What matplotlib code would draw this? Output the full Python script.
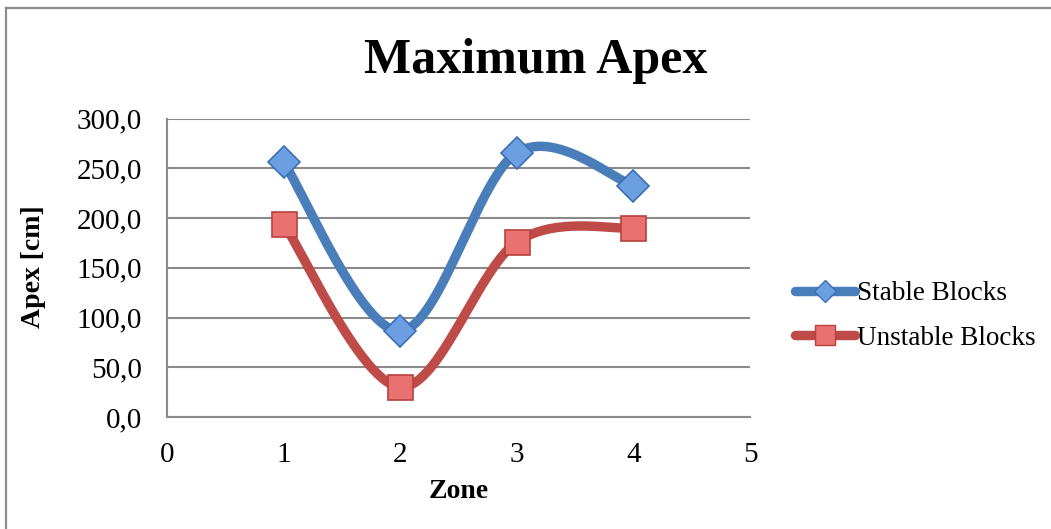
import numpy as np
import matplotlib
matplotlib.use("Agg")
import matplotlib.pyplot as plt
from matplotlib.lines import Line2D

# Data
zones = [1, 2, 3, 4]
stable_blocks = [256.2, 86.5, 265.8, 232.6]
unstable_blocks = [194.1, 30.2, 176.0, 190.0]
series_names = ["Stable Blocks", "Unstable Blocks"]
y_ticks = [0, 50, 100, 150, 200, 250, 300]
x_ticks = [0, 1, 2, 3, 4, 5]

plt.rcParams['font.family'] = ['Liberation Serif', 'DejaVu Serif']

BLUE_LINE = "#4a7ebb"
BLUE_FACE = "#6c9fe2"
BLUE_EDGE = "#3c6fb4"
RED_LINE = "#be4b48"
RED_FACE = "#e9716f"
RED_EDGE = "#b8403d"
GRID = "#8a8a8a"


def smooth_curve(x, y, n=60):
    """Cubic Bezier smoothing through the points (spreadsheet-style)."""
    pts = np.column_stack([x, y]).astype(float)
    ext = np.vstack([pts[0], pts, pts[-1]])
    t = np.linspace(0, 1, n)[:, None]
    segs = []
    for i in range(len(pts) - 1):
        p0, p1, p2, p3 = ext[i], ext[i + 1], ext[i + 2], ext[i + 3]
        c1 = p1 + (p2 - p0) / 6.0
        c2 = p2 - (p3 - p1) / 6.0
        seg = ((1 - t) ** 3) * p1 + 3 * ((1 - t) ** 2) * t * c1 \
            + 3 * (1 - t) * t ** 2 * c2 + t ** 3 * p2
        segs.append(seg if i == 0 else seg[1:])
    curve = np.vstack(segs)
    return curve[:, 0], curve[:, 1]


W, H = 1051, 529
fig = plt.figure(figsize=(W / 100, H / 100), dpi=100)
fig.patch.set_facecolor("white")

# outer chart frame (top and left edges)
fig.add_artist(Line2D([6 / W, 6 / W], [0, 1 - 8 / H], color="#8c8c8c", lw=1.6,
                      transform=fig.transFigure))
fig.add_artist(Line2D([6 / W, 1], [1 - 8 / H, 1 - 8 / H], color="#8c8c8c", lw=1.6,
                      transform=fig.transFigure))

left, right = 167 / W, 750 / W
bottom, top = 1 - 417 / H, 1 - 118.7 / H
ax = fig.add_axes([left, bottom, right - left, top - bottom])

ax.set_xlim(0, 5)
ax.set_ylim(0, 300)
ax.set_xticks(x_ticks)
ax.set_yticks(y_ticks)
ax.set_yticklabels([f"{v:.1f}".replace(".", ",") for v in y_ticks])
ax.tick_params(axis="both", length=0, labelsize=21, colors="black")
ax.tick_params(axis="y", pad=18)
ax.tick_params(axis="x", pad=18)

for s in ["top", "right"]:
    ax.spines[s].set_visible(False)
for s in ["left", "bottom"]:
    ax.spines[s].set_color(GRID)
    ax.spines[s].set_linewidth(1.5)

ax.yaxis.grid(True, color=GRID, lw=1.5)
ax.set_axisbelow(True)

sx, sy = smooth_curve(zones, stable_blocks)
ux, uy = smooth_curve(zones, unstable_blocks)

ax.plot(sx, sy, color=BLUE_LINE, lw=6.8, solid_capstyle="round", zorder=3)
ax.plot(ux, uy, color=RED_LINE, lw=6.8, solid_capstyle="round", zorder=3)
ax.plot(zones, stable_blocks, ls="none", marker="D", ms=16, mfc=BLUE_FACE,
        mec=BLUE_EDGE, mew=1.2, zorder=4, clip_on=False)
ax.plot(zones, unstable_blocks, ls="none", marker="s", ms=18, mfc=RED_FACE,
        mec=RED_EDGE, mew=1.2, zorder=4, clip_on=False)

fig.text(536 / W, 1 - 61 / H, "Maximum Apex", ha="center", va="center",
         fontsize=36, fontweight="bold")
fig.text(33 / W, 1 - 267 / H, "Apex [cm]", ha="center", va="center",
         rotation=90, fontsize=20, fontweight="bold")
fig.text(459 / W, 1 - 491 / H, "Zone", ha="center", va="center",
         fontsize=20, fontweight="bold")

handles = [
    Line2D([], [], color=BLUE_LINE, lw=6.8, marker="D", ms=11, mfc=BLUE_FACE,
           mec=BLUE_EDGE, solid_capstyle="round"),
    Line2D([], [], color=RED_LINE, lw=6.8, marker="s", ms=14, mfc=RED_FACE,
           mec=RED_EDGE, solid_capstyle="round"),
]
fig.legend(handles, series_names, loc="center left",
           bbox_to_anchor=(795 / W, 1 - 316 / H), frameon=False,
           fontsize=19.5, handlelength=2.2, handletextpad=0.1,
           labelspacing=0.72, borderpad=0, borderaxespad=0)

fig.savefig("out.png", dpi=100, facecolor="white")
